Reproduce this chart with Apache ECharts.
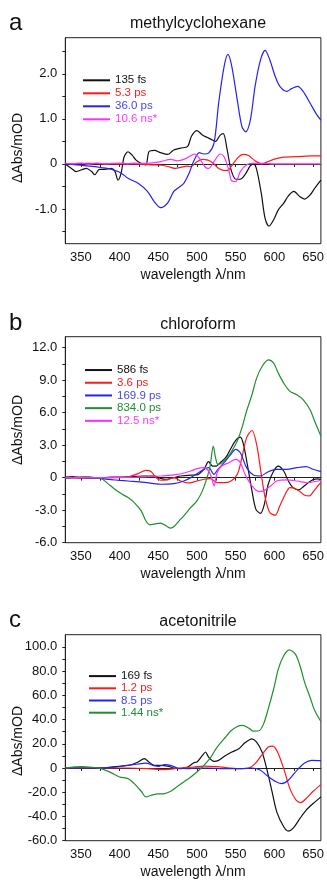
<!DOCTYPE html>
<html><head><meta charset="utf-8">
<script src="https://cdn.jsdelivr.net/npm/echarts@6/dist/echarts.min.js"></script>
<style>html,body{margin:0;padding:0;background:#fff}#c{width:327px;height:880px}</style>
</head><body><div id="c"></div>
<script>
// ---------- axis ticks / labels ----------
const wavelengthLabels = [350, 400, 450, 500, 550, 600, 650];
const wavelengthTicks = [350, 375, 400, 425, 450, 475, 500, 525, 550, 575, 600, 625, 650];
const aYLabels = [-1, 0, 1, 2];
const aYTicks = [-1.5, -1, -0.5, 0, 0.5, 1, 1.5, 2, 2.5];
const bYLabels = [-6, -3, 0, 3, 6, 9, 12];
const bYTicks = [-6, -4.5, -3, -1.5, 0, 1.5, 3, 4.5, 6, 7.5, 9, 10.5, 12];
const cYLabels = [-60, -40, -20, 0, 20, 40, 60, 80, 100];
const cYTicks = [-60, -50, -40, -30, -20, -10, 0, 10, 20, 30, 40, 50, 60, 70, 80, 90, 100];

// ---------- panel titles ----------
const panelLetters = ['a', 'b', 'c'];
const panelTitles = ['methylcyclohexane', 'chloroform', 'acetonitrile'];
const seriesNamesA = ['135 fs', '5.3 ps', '36.0 ps', '10.6 ns*'];
const seriesNamesB = ['586 fs', '3.6 ps', '169.9 ps', '834.0 ps', '12.5 ns*'];
const seriesNamesC = ['169 fs', '1.2 ps', '8.5 ps', '1.44 ns*'];

// ---------- panel a: methylcyclohexane (wavelength nm, ΔAbs mOD) ----------
const aBlack = [[330,0],[338,-0.1],[344,-0.17],[351,-0.13],[357,-0.1],[364,-0.17],[368,-0.24],[374,-0.12],[381,-0.12],[389,-0.1],[394,-0.16],[398,-0.36],[402,-0.21],[406,0.16],[411,0.27],[416,0.2],[421,0.09],[428,0.01],[434,-0.02],[438,0.27],[445,0.3],[453,0.25],[462,0.21],[470,0.31],[479,0.35],[488,0.39],[493,0.62],[500,0.74],[507,0.64],[513,0.59],[520,0.53],[524,0.5],[530,0.64],[534,0.67],[539,0.31],[544,-0.13],[550,-0.34],[556,-0.34],[562,-0.24],[569,-0.04],[573,0],[577,-0.12],[583,-0.65],[588,-1.21],[593,-1.38],[599,-1.24],[605,-1.02],[612,-0.87],[618,-0.71],[625,-0.61],[633,-0.73],[639,-0.78],[646,-0.69],[652,-0.54],[660,-0.36]];
const aRed = [[330,0],[360,0.01],[390,0],[420,0],[440,-0.02],[455,-0.03],[465,-0.07],[472,-0.1],[480,-0.07],[487,-0.05],[492,-0.06],[500,0.05],[507,0.1],[513,0.09],[520,0.03],[528,-0.1],[537,-0.15],[541,-0.13],[547,0.01],[554,0.16],[560,0.21],[567,0.18],[575,0.07],[584,0],[590,0.04],[599,0.1],[612,0.15],[629,0.16],[646,0.18],[660,0.18]];
const aBlue = [[330,0],[350,-0.03],[368,-0.06],[376,-0.08],[390,-0.12],[398,-0.17],[405,-0.24],[411,-0.32],[424,-0.43],[436,-0.61],[445,-0.84],[453,-0.97],[462,-0.87],[470,-0.61],[475,-0.54],[483,-0.43],[490,-0.2],[496,0.07],[503,0.25],[509,0.22],[515,0.24],[522,0.46],[528,1.35],[535,2.16],[540,2.43],[545,2.16],[552,1.42],[558,0.83],[563,0.71],[569,0.98],[575,1.72],[582,2.31],[588,2.52],[594,2.31],[601,1.94],[607,1.72],[616,1.61],[622,1.67],[630,1.72],[637,1.61],[646,1.35],[654,1.11],[660,0.97]];
const aMagenta = [[330,0.02],[340,0],[350,0.02],[360,-0.01],[370,0.02],[380,0],[390,0.01],[400,0.02],[410,0],[420,0.02],[432,0.01],[445,0.03],[453,0.05],[466,0.1],[475,0.07],[483,0.1],[492,0.18],[497,0.22],[503,0.13],[511,-0.08],[515,-0.1],[522,0.05],[530,0.22],[535,0.16],[541,-0.13],[545,-0.38],[550,-0.39],[556,-0.17],[564,-0.02],[573,0.01],[586,0.01],[600,0],[620,0],[640,0],[660,0]];

// ---------- panel b: chloroform ----------
const bBlack = [[330,0.05],[340,0.1],[350,0],[360,0.05],[370,0],[380,0],[390,0.05],[400,0.05],[415,0.1],[432,0.15],[445,0.15],[453,-0.06],[460,-0.15],[470,0],[479,0.15],[492,0.24],[500,0.25],[509,0.77],[515,1.47],[520,1.07],[525,1.07],[530,1.38],[537,1.84],[543,2.6],[550,3.43],[556,3.73],[560,3.06],[565,1.22],[571,-1.22],[576,-2.9],[582,-3.3],[587,-2.45],[592,-0.61],[599,0.61],[605,1.07],[612,0.61],[618,-0.31],[624,-0.92],[631,-1.13],[637,-0.86],[644,-0.46],[650,-0.18],[656,-0.12],[660,-0.18]];
const bRed = [[330,0],[360,-0.05],[380,0],[400,0],[411,0.06],[424,0.37],[434,0.67],[441,0.55],[447,0],[453,-0.24],[462,-0.21],[470,0],[479,-0.31],[488,-0.49],[492,-0.46],[500,-0.31],[509,-0.15],[517,-0.09],[522,-0.3],[526,-0.46],[535,-0.46],[543,-0.35],[552,0.3],[558,1.84],[564,3.67],[571,4.35],[577,3.06],[583,0.31],[588,-1.84],[594,-3.21],[601,-3.46],[607,-2.6],[614,-1.53],[620,-0.92],[626,-0.98],[633,-1.29],[639,-1.62],[645,-1.68],[651,-1.22],[656,-0.77],[660,-0.46]];
const bBlue = [[330,0],[350,0],[370,-0.05],[389,-0.18],[400,-0.25],[411,-0.31],[432,-0.43],[453,-0.61],[470,-0.55],[483,-0.31],[492,0],[500,0.37],[509,0.77],[515,0.92],[522,0.31],[526,0.67],[535,1.38],[543,2.08],[550,2.6],[556,2.3],[564,0.92],[573,0.24],[582,0.15],[592,0.55],[603,0.77],[616,0.77],[629,0.92],[641,1.01],[650,0.77],[660,0.55]];
const bGreen = [[330,-0.1],[345,0.05],[355,0.1],[365,0],[376,-0.06],[385,-0.55],[394,-1.07],[402,-1.47],[411,-1.84],[419,-2.3],[428,-3.06],[434,-3.98],[439,-4.35],[445,-4.28],[453,-4.19],[460,-4.44],[466,-4.65],[470,-4.53],[477,-3.98],[483,-3.52],[492,-2.75],[500,-2.14],[507,-1.22],[513,0],[517,1.07],[521,2.9],[524,1.84],[527,1.22],[532,1.38],[539,1.84],[545,2.45],[552,3.37],[558,4.59],[564,6.12],[571,7.65],[577,9.18],[584,10.25],[592,10.86],[599,10.56],[605,9.64],[612,8.72],[620,7.96],[629,7.65],[637,7.19],[646,6.27],[652,5.2],[660,3.83]];
const bMagenta = [[330,0],[350,0.03],[370,0],[400,0.02],[432,0.06],[453,0.15],[475,0.3],[492,0.61],[500,0.83],[509,0.92],[515,0.61],[519,0],[522,-0.77],[526,0.46],[532,1.07],[541,1.38],[550,1.68],[556,1.38],[562,0.31],[571,-0.77],[580,-1.29],[586,-1.22],[595,-0.77],[603,-0.31],[616,-0.21],[629,-0.31],[642,-0.46],[652,-0.37],[660,-0.24]];

// ---------- panel c: acetonitrile ----------
const cBlack = [[330,0],[360,0],[380,0],[389,0.8],[402,1.6],[415,2.7],[424,4.9],[432,7.7],[438,4.9],[445,2.2],[453,2.2],[462,1.6],[470,0],[479,-0.5],[488,0.8],[496,4.4],[500,4.9],[507,10.4],[511,13.2],[515,9],[522,5.5],[528,6.3],[537,10.4],[545,13.2],[554,15.9],[562,20.8],[571,24.1],[577,21.4],[584,13.2],[590,-0.5],[597,-19.7],[603,-36.2],[612,-48.5],[618,-52.1],[624,-49.9],[633,-41.6],[641,-34.8],[650,-29.3],[660,-23.8]];
const cRed = [[330,0],[380,0],[411,0],[436,-0.5],[458,-1.4],[479,0],[496,0.8],[509,1.6],[526,1.1],[543,0],[556,-0.5],[567,0],[575,3.6],[584,11],[592,17.3],[598,18.1],[604,13.2],[612,-0.5],[620,-17],[628,-26.6],[634,-28.5],[641,-25.2],[650,-19.2],[660,-13.7]];
const cBlue = [[330,0],[370,0],[390,0.5],[411,2.2],[428,3.6],[434,4.1],[443,2.2],[451,1.4],[458,2.7],[466,2.2],[475,0],[488,-0.5],[498,0],[513,0],[535,-0.5],[556,-0.5],[571,0],[582,-1.9],[590,-6],[601,-11],[609,-12.9],[618,-10.1],[629,-1.9],[639,4.1],[648,6.3],[660,6]];
const cGreen = [[330,0],[351,1.1],[365,0.5],[376,-0.5],[389,-3.8],[400,-7.4],[411,-8.8],[419,-12.9],[428,-19.2],[434,-23.8],[441,-22.5],[449,-21.4],[458,-21.1],[466,-19.2],[475,-15.1],[483,-11.5],[492,-7.4],[500,-3.3],[509,2.2],[518,9],[526,17.3],[535,24.1],[543,30.1],[552,34.2],[559,35.1],[567,32.9],[573,30.4],[580,30.7],[586,36.4],[592,48.8],[599,65.2],[605,81.6],[612,92.6],[619,97.5],[627,94],[633,84.4],[639,70.7],[646,58.4],[652,47.4],[660,38.4]];

// ---------- styling ----------
const FONT = 'Liberation Sans, Arial, sans-serif';
const AX = '#222';
const COL = { black: '#111111', red: '#ff1a1a', blue: '#2424f0', magenta: '#ff2eff', green: '#1f8f2f' };
const TXT = { black: '#111111', red: '#ee2222', blue: '#4646e6', magenta: '#ff3cff', green: '#1f8f2f' };

const panels = [
  { top: 37.7, min: -1.77, max: 2.8, labels: aYLabels, ticks: aYTicks,
    series: [[seriesNamesA[0], aBlack, 'black'], [seriesNamesA[1], aRed, 'red'], [seriesNamesA[2], aBlue, 'blue'], [seriesNamesA[3], aMagenta, 'magenta']],
    legendLeft: 83, legendTop: 73.8, legendLH: 13 },
  { top: 336.7, min: -6, max: 13, labels: bYLabels, ticks: bYTicks,
    series: [[seriesNamesB[0], bBlack, 'black'], [seriesNamesB[1], bRed, 'red'], [seriesNamesB[2], bBlue, 'blue'], [seriesNamesB[3], bGreen, 'green'], [seriesNamesB[4], bMagenta, 'magenta']],
    legendLeft: 85, legendTop: 363.7, legendLH: 12.7 },
  { top: 634.7, min: -60, max: 110, labels: cYLabels, ticks: cYTicks,
    series: [[seriesNamesC[0], cBlack, 'black'], [seriesNamesC[1], cRed, 'red'], [seriesNamesC[2], cBlue, 'blue'], [seriesNamesC[3], cGreen, 'green']],
    legendLeft: 89, legendTop: 670, legendLH: 12.2 }
];
const letterY = [23.5, 323.5, 620];
const titleY = [23.8, 324.5, 621.2];
const yNameY = [148, 430, 741];

const grid = [], xAxis = [], yAxis = [], series = [], legend = [], graphic = [];
const yFmt = v => (v === 0 ? '0' : v.toFixed(1));

panels.forEach((p, i) => {
  grid.push({ left: 65.3, top: p.top, width: 257.4, height: 206, show: true, borderColor: AX, borderWidth: 1, backgroundColor: 'transparent' });
  xAxis.push({
    type: 'value', gridIndex: i, min: 330, max: 660,
    name: 'wavelength λ/nm', nameLocation: 'middle', nameGap: 24,
    nameTextStyle: { fontSize: 14, color: '#111', fontFamily: FONT },
    axisLine: { show: true, lineStyle: { color: AX, width: 1 } },
    axisTick: { show: true, length: 3, customValues: wavelengthTicks, lineStyle: { color: AX } },
    axisLabel: { customValues: wavelengthLabels, fontSize: 13, color: '#111', margin: 7, fontFamily: FONT },
    splitLine: { show: false }
  });
  yAxis.push({
    type: 'value', gridIndex: i, min: p.min, max: p.max,
    axisLine: { show: true, lineStyle: { color: AX, width: 1 } },
    axisTick: { show: true, length: 3, customValues: p.ticks, lineStyle: { color: AX } },
    axisLabel: { customValues: p.labels, formatter: yFmt, fontSize: 13, color: '#111', margin: 8, fontFamily: FONT },
    splitLine: { show: false }
  });
  p.series.forEach(s => {
    series.push({
      name: s[0], type: 'line', xAxisIndex: i, yAxisIndex: i, data: s[1],
      showSymbol: false, smooth: 0.3, color: COL[s[2]],
      lineStyle: { width: 1.2, color: COL[s[2]] }, emphasis: { disabled: true }, animation: false
    });
  });
  legend.push({
    left: p.legendLeft, top: p.legendTop, orient: 'vertical', padding: 0, itemGap: 0,
    itemWidth: 27, itemHeight: 2, icon: 'rect', selectedMode: false,
    textStyle: { fontSize: 11.5, lineHeight: p.legendLH, fontFamily: FONT, padding: [0, 0, 0, 0] },
    data: p.series.map(s => ({ name: s[0], textStyle: { color: TXT[s[2]] } }))
  });
  graphic.push({ type: 'text', x: 9, y: letterY[i], style: { text: panelLetters[i], font: '24px ' + FONT, fill: '#111', verticalAlign: 'middle' } });
  graphic.push({ type: 'text', x: 198, y: titleY[i], style: { text: panelTitles[i], font: '16px ' + FONT, fill: '#111', align: 'center', verticalAlign: 'middle' } });
  graphic.push({ type: 'text', x: 18.3, y: yNameY[i], rotation: Math.PI / 2, style: { text: 'ΔAbs/mOD', font: '14px ' + FONT, fill: '#111', align: 'center', verticalAlign: 'middle' } });
});

const chart = echarts.init(document.getElementById('c'), null, { renderer: 'canvas' });
chart.setOption({ animation: false, backgroundColor: '#fff', grid, xAxis, yAxis, series, legend, graphic });
</script></body></html>
